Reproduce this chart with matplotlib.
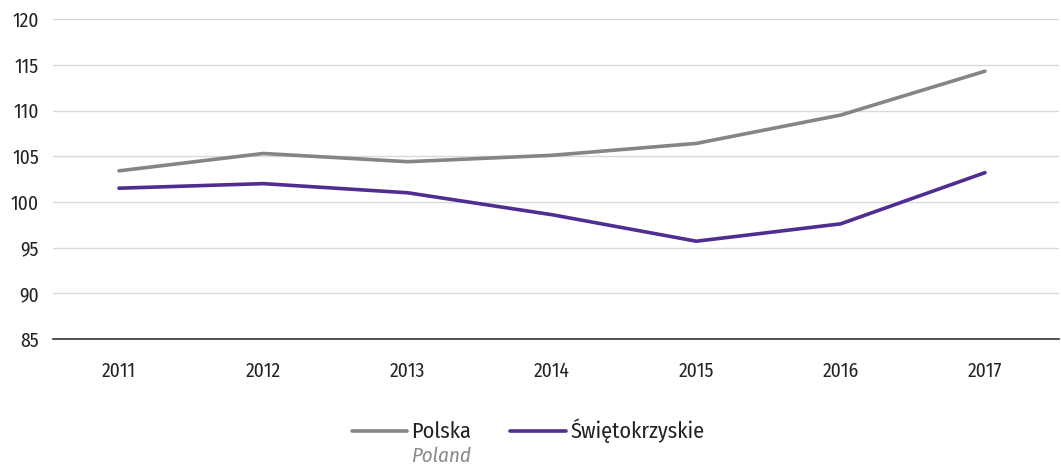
import matplotlib
matplotlib.use("Agg")
import matplotlib.pyplot as plt
from matplotlib import font_manager

years = ["2011", "2012", "2013", "2014", "2015", "2016", "2017"]
polska = [103.4, 105.3, 104.4, 105.1, 106.4, 109.5, 114.3]
swietokrzyskie = [101.5, 102.0, 101.0, 98.6, 95.7, 97.6, 103.2]
y_ticks = [85, 90, 95, 100, 105, 110, 115, 120]

avail = sorted({f.name for f in font_manager.fontManager.ttflist})
fam = "DejaVu Sans"
for c in ["Fira Sans Condensed", "Roboto Condensed", "Open Sans Condensed", "Liberation Sans Narrow", "Lato", "Roboto"]:
    if c in avail:
        fam = c
        break
plt.rcParams['font.family'] = [fam, 'DejaVu Sans']

fig = plt.figure(figsize=(10.61, 4.66), dpi=100)
ax = fig.add_axes([53/1061, 0.2725, 1006/1061, 0.6865])

x = list(range(len(years)))
l1, = ax.plot(x, polska, color="#858585", lw=2.6, label="Polska", solid_capstyle="round")
l2, = ax.plot(x, swietokrzyskie, color="#4f2d91", lw=2.6, label="Świętokrzyskie", solid_capstyle="round")

ax.set_xlim(-0.457, 6.513)
ax.set_ylim(85, 120)
ax.set_yticks(y_ticks)
ax.set_xticks(x)
ax.set_xticklabels(years)
ax.grid(axis="y", color="#d9d9d9", lw=1)
ax.set_axisbelow(True)
for s in ["top", "right", "left"]:
    ax.spines[s].set_visible(False)
ax.spines["bottom"].set_color("#333333")
ax.spines["bottom"].set_linewidth(1.2)
ax.tick_params(axis="both", length=0, labelsize=14, colors="#222222")
ax.tick_params(axis="x", pad=16)
ax.tick_params(axis="y", pad=10)

leg = fig.legend(handles=[l1, l2], loc="center", bbox_to_anchor=(528/1061, 1 - 431/466),
                 ncol=2, frameon=False, fontsize=16, handlelength=2.5,
                 columnspacing=1.75, handletextpad=0.2)
for t in leg.get_texts():
    t.set_color("#222222")

fig.canvas.draw()
r = fig.canvas.get_renderer()
bb = leg.get_texts()[0].get_window_extent(r)
fig.text(bb.x0 / fig.bbox.width, (466 - 462) / 466, "Poland",
         ha="left", va="baseline", fontsize=15, style="italic", color="#8a8a8a")

fig.savefig("out.png", dpi=100)
